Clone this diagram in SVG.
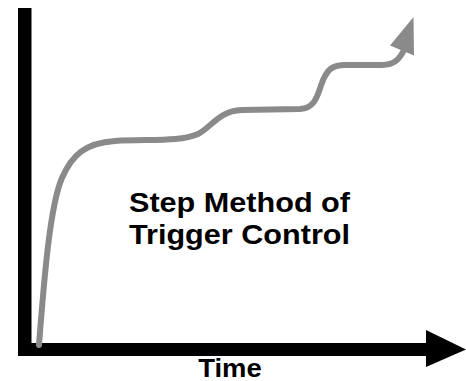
<svg xmlns="http://www.w3.org/2000/svg" width="466" height="381" viewBox="0 0 466 381">
<style>
.axis{fill:#000}
.curve{fill:none;stroke:#8a8a8a;stroke-width:6;stroke-linecap:round;stroke-linejoin:round}
.head{fill:#8a8a8a}
.lbl{font-family:"Liberation Sans",Arial,sans-serif;font-weight:bold;fill:#000}
</style>
<rect width="466" height="381" fill="#fff"/>
<g id="axes">
<rect class="axis" x="18" y="8" width="13.5" height="348"/>
<rect class="axis" x="18" y="343" width="410" height="13"/>
<polygon class="axis" points="426,330 466,349.5 426,367"/>
</g>
<g id="connectors">
<path class="curve" d="M 39,345 C 44,280 50,205 62,178 C 72,155 85,143 115,141 C 150,139 180,142 198,134 C 212,127 218,111 242,110 L 300,109 C 318,108 318,90 324,78 C 328,70 332,65 345,65 L 382,65 C 395,65 400,58 404,50"/>
<polygon class="head" points="413.5,17 390,45.5 414,55.5"/>
</g>
<g id="title">
<text class="lbl" x="239.5" y="211.5" font-size="27.5" text-anchor="middle" textLength="221" lengthAdjust="spacingAndGlyphs">Step Method of</text>
<text class="lbl" x="239.5" y="243.5" font-size="27.5" text-anchor="middle" textLength="221" lengthAdjust="spacingAndGlyphs">Trigger Control</text>
</g>
<g id="xlabel">
<text class="lbl" x="230" y="376.5" font-size="25.5" text-anchor="middle" textLength="63.5" lengthAdjust="spacingAndGlyphs">Time</text>
</g>
</svg>
